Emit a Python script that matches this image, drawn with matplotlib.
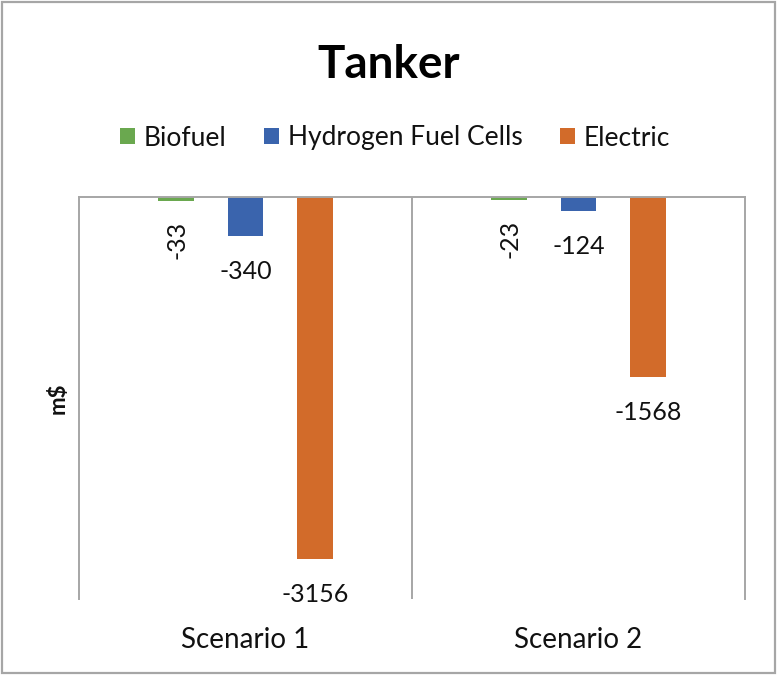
import matplotlib
matplotlib.use("Agg")
import matplotlib.pyplot as plt
from matplotlib.patches import Patch, Rectangle

plt.rcParams['font.family'] = ['Lato', 'DejaVu Sans']

categories = ["Scenario 1", "Scenario 2"]
series_names = ["Biofuel", "Hydrogen Fuel Cells", "Electric"]
biofuel = [-33, -23]
hydrogen = [-340, -124]
electric = [-3156, -1568]
colors = ["#6aa84f", "#3a64ad", "#d26b2a"]

W, H = 777, 675
fig = plt.figure(figsize=(W / 100, H / 100), dpi=100)
ax = fig.add_axes([79 / W, 1 - 599 / H, (745 - 79) / W, (599 - 197) / H])

offsets = [-0.209, 0.0, 0.208]
width = 0.108
grid_c = "#a6a6a6"
txt_c = "#111111"

all_series = [biofuel, hydrogen, electric]
for s, (vals, col, off) in enumerate(zip(all_series, colors, offsets)):
    xs = [i + off for i in range(len(categories))]
    ax.bar(xs, vals, width=width, color=col, edgecolor='none', zorder=2)
    for x, v in zip(xs, vals):
        if s == 0:
            ax.annotate(f"{v}", xy=(x, v), xytext=(1, -39), textcoords='offset pixels',
                        ha='center', va='center', rotation=90, fontsize=18, color=txt_c)
        else:
            ax.annotate(f"{v}", xy=(x, v), xytext=(0, -43), textcoords='offset pixels',
                        ha='center', va='baseline', fontsize=18, color=txt_c)

ax.set_xlim(-0.5, len(categories) - 0.5)
ax.set_ylim(-3500, 0)
ax.axvline(0.5, color=grid_c, lw=1.4, zorder=1)
for side in ['top', 'left', 'right']:
    ax.spines[side].set_color(grid_c)
    ax.spines[side].set_linewidth(1.4)
ax.spines['bottom'].set_visible(False)
ax.set_yticks([])
ax.set_xticks(range(len(categories)), categories, fontsize=20, color=txt_c)
ax.tick_params(axis='x', length=0, pad=20)

fig.text(58 / W, 1 - 398 / H, "m$", rotation=90, ha='center', va='center',
         fontsize=16, fontweight='bold', color=txt_c)

fig.text(389 / W, 1 - 78 / H, "Tanker", ha='center', va='baseline',
         fontsize=33, fontweight='bold', color='#000000')

handles = [Patch(facecolor=c, edgecolor='none') for c in colors]
fig.legend(handles, series_names, loc='center', bbox_to_anchor=(395 / W, 1 - 138 / H),
           ncol=3, frameon=False, fontsize=19, handlelength=0.57, handleheight=0.57,
           handletextpad=0.34, columnspacing=1.4, labelcolor=txt_c)

fig.patches.append(Rectangle((2 / W, 2 / H), (W - 4) / W, (H - 4) / H,
                             transform=fig.transFigure, fill=False,
                             edgecolor=grid_c, lw=1.6))

fig.savefig("out.png", dpi=100)
